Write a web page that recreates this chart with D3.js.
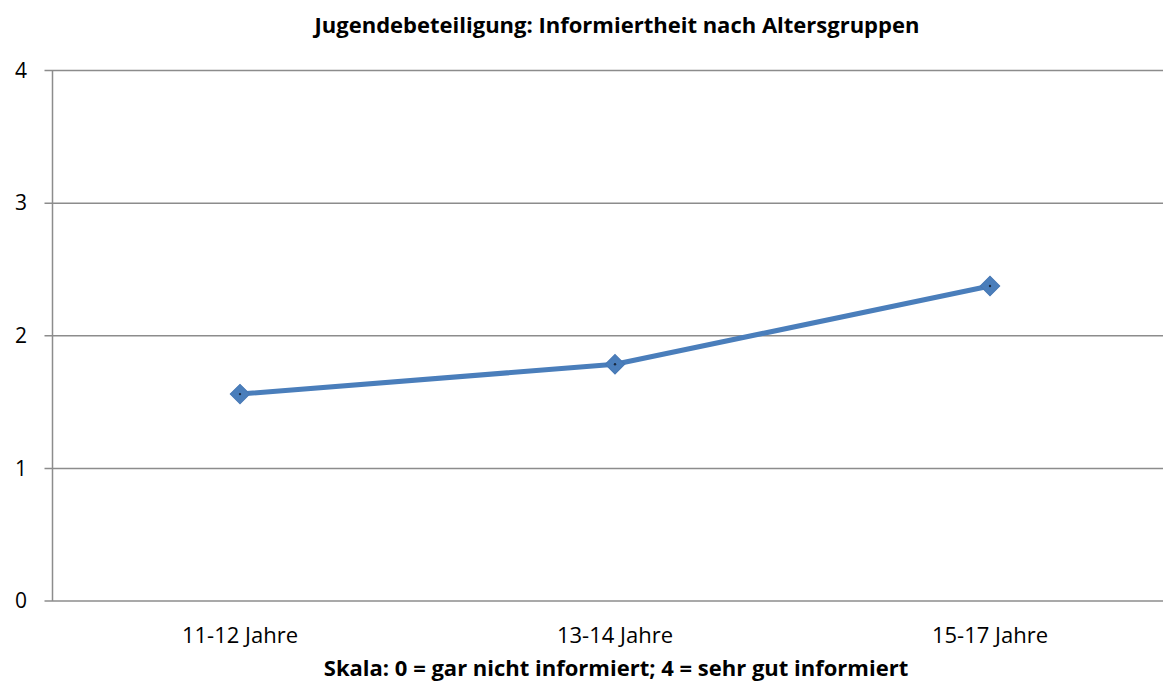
<!DOCTYPE html>
<html>
<head>
<meta charset="utf-8">
<script src="https://cdn.jsdelivr.net/npm/d3@7"></script>
<style>
  body { margin: 0; background: #fff; }
  text { font-family: "Open Sans", Lato, sans-serif; }
</style>
</head>
<body>
<svg id="chart"></svg>
<script>
let kategorien = ["11-12 Jahre", "13-14 Jahre", "15-17 Jahre"];
let werte = [1.56, 1.785, 2.375];
let yTicks = [0, 1, 2, 3, 4];
let titel = "Jugendebeteiligung: Informiertheit nach Altersgruppen";
let achsenTitel = "Skala: 0 = gar nicht informiert; 4 = sehr gut informiert";

var svgWidth = 1163, svgHeight = 690;
var plotLeft = 52.5, plotTop = 70.5, plotBottom = 601;
var bandWidth = 375;

var svg = d3.select("#chart")
    .attr("width", svgWidth)
    .attr("height", svgHeight);

var x = d3.scaleBand()
    .domain(kategorien)
    .range([plotLeft, plotLeft + bandWidth * kategorien.length]);

var y = d3.scaleLinear()
    .domain([0, 4])
    .range([plotBottom, plotTop]);

// gridlines
svg.selectAll("line.grid")
    .data(yTicks)
    .enter()
    .append("line")
    .attr("class", "grid")
    .attr("x1", plotLeft - 8)
    .attr("x2", svgWidth)
    .attr("y1", d => y(d))
    .attr("y2", d => y(d))
    .attr("stroke", "#8c8c8c")
    .attr("stroke-width", 1.5);

// y axis line
svg.append("line")
    .attr("x1", plotLeft).attr("x2", plotLeft)
    .attr("y1", plotTop).attr("y2", plotBottom)
    .attr("stroke", "#8c8c8c")
    .attr("stroke-width", 1.5);

svg.selectAll("text.ylab")
    .data(yTicks)
    .enter()
    .append("text")
    .attr("class", "ylab")
    .attr("x", 27)
    .attr("y", d => y(d))
    .attr("dy", "0.35em")
    .attr("text-anchor", "end")
    .attr("font-size", 21)
    .attr("fill", "#000")
    .text(d => d);

svg.selectAll("text.xlab")
    .data(kategorien)
    .enter()
    .append("text")
    .attr("class", "xlab")
    .attr("x", d => x(d) + x.bandwidth() / 2)
    .attr("y", 635)
    .attr("dy", "0.35em")
    .attr("text-anchor", "middle")
    .attr("font-size", 22)
    .attr("fill", "#000")
    .text(d => d);

var line = d3.line()
    .x((d, i) => x(kategorien[i]) + x.bandwidth() / 2)
    .y(d => y(d));

svg.append("path")
    .datum(werte)
    .attr("d", line)
    .attr("fill", "none")
    .attr("stroke", "#4a7ebb")
    .attr("stroke-width", 5)
    .attr("stroke-linejoin", "round");

svg.selectAll("path.marker")
    .data(werte)
    .enter()
    .append("path")
    .attr("class", "marker")
    .attr("d", d3.symbol().type(d3.symbolSquare).size(190))
    .attr("transform", (d, i) => "translate(" + (x(kategorien[i]) + x.bandwidth() / 2) + "," + y(d) + ") rotate(45)")
    .attr("fill", "#4a7ebb")
    .attr("stroke", "#4677b4")
    .attr("stroke-width", 1);

svg.selectAll("circle.dot")
    .data(werte)
    .enter()
    .append("circle")
    .attr("class", "dot")
    .attr("cx", (d, i) => x(kategorien[i]) + x.bandwidth() / 2)
    .attr("cy", d => y(d))
    .attr("r", 1.2)
    .attr("fill", "#1a2a40");

svg.append("text")
    .attr("x", 617)
    .attr("y", 25)
    .attr("dy", "0.35em")
    .attr("text-anchor", "middle")
    .attr("font-size", 22)
    .attr("font-weight", "bold")
    .text(titel);

svg.append("text")
    .attr("x", 616)
    .attr("y", 668)
    .attr("dy", "0.35em")
    .attr("text-anchor", "middle")
    .attr("font-size", 22)
    .attr("font-weight", "bold")
    .text(achsenTitel);
</script>
</body>
</html>
